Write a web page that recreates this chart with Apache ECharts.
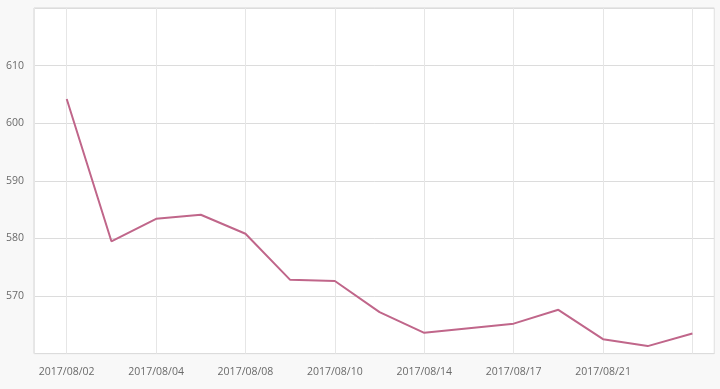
<!DOCTYPE html>
<html><head><meta charset="utf-8">
<script src="https://cdn.jsdelivr.net/npm/echarts@6/dist/echarts.min.js"></script>
<style>html,body{margin:0;padding:0;background:#f8f8f8;}#c{width:720px;height:389px;}</style>
</head><body><div id="c"></div>
<script>
var categories = ['2017/08/02','2017/08/03','2017/08/04','2017/08/07','2017/08/08','2017/08/09','2017/08/10','2017/08/11','2017/08/14','2017/08/16','2017/08/17','2017/08/18','2017/08/21','2017/08/22','2017/08/23'];
var values = [604.2, 579.5, 583.4, 584.1, 580.8, 572.8, 572.6, 567.2, 563.6, 564.4, 565.2, 567.6, 562.5, 561.3, 563.5];
var yTickValues = [570, 580, 590, 600, 610];

var seriesData = values.map(function (v, i) { return [i, v]; });
var chart = echarts.init(document.getElementById('c'));
chart.setOption({
  backgroundColor: '#f8f8f8',
  animation: false,
  grid: { left: 34, right: 5.7, top: 8, bottom: 35.4, show: true, backgroundColor: '#ffffff', borderColor: '#d6d6d6', borderWidth: 1 },
  xAxis: {
    type: 'value', min: -0.732, max: 14.49, splitNumber: 7,
    axisLine: { show: false }, axisTick: { show: false },
    axisLabel: {
      color: '#6a6a6a', fontSize: 10.5, fontFamily: 'Open Sans', margin: 13,
      formatter: function (v) { return (Number.isInteger(v) && v < categories.length - 1) ? categories[v] : ''; }
    },
    splitLine: { show: true, lineStyle: { color: '#e6e6e6', width: 1 } }
  },
  yAxis: {
    type: 'value', min: 560, max: 620,
    axisLine: { show: false }, axisTick: { show: false },
    axisLabel: {
      color: '#6a6a6a', fontSize: 10.5, fontFamily: 'Open Sans', margin: 10,
      formatter: function (v) { return yTickValues.indexOf(v) >= 0 ? String(v) : ''; }
    },
    splitLine: { show: true, lineStyle: { color: '#dcdcdc', width: 1 } }
  },
  series: [{
    type: 'line', data: seriesData, showSymbol: false, symbol: 'none',
    lineStyle: { color: '#c0668a', width: 2 }
  }]
});
</script></body></html>
